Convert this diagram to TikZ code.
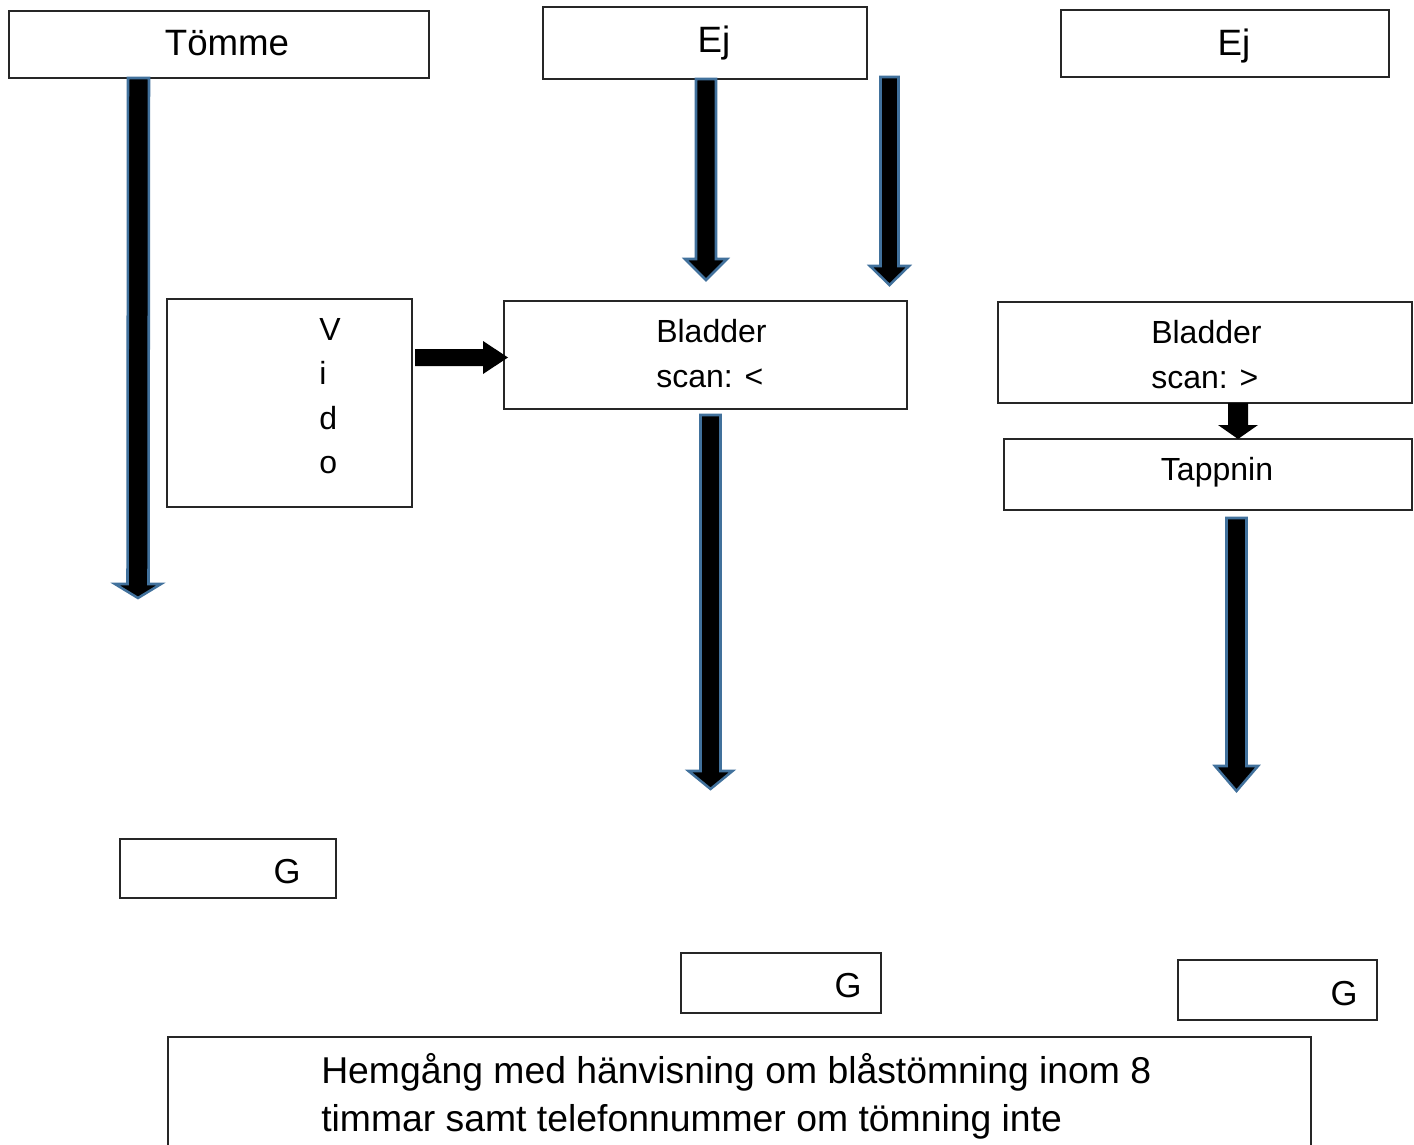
\documentclass[tikz,border=0pt]{standalone}
\usepackage{fontspec}
\setmainfont{Liberation Sans}
\usetikzlibrary{calc}
\definecolor{arrowblue}{RGB}{65,113,156}
\newcommand{\pxu}{0.75pt}
% block arrow pointing down: #2 top coord, #3 tip coord, #4 half shaft, #5 half head, #6 head length
\newcommand{\blkdown}[6][]{%
  \draw[#1] ($(#2)+(-#4,0)$) -- ($(#3)+(-#4,-#6)$) -- ($(#3)+(-#5,-#6)$) -- (#3)
    -- ($(#3)+(#5,-#6)$) -- ($(#3)+(#4,-#6)$) -- ($(#2)+(#4,0)$) -- cycle;}
\begin{document}
\begin{tikzpicture}[x=0.75pt,y=-0.75pt,
  box/.style={draw=black!85,line width=1.6pt,inner sep=0pt,outer sep=0pt},
  big/.style={font=\fontsize{27.5pt}{36pt}\selectfont,inner sep=0pt,anchor=base},
  bottomtext/.style={font=\fontsize{28pt}{36pt}\selectfont,inner sep=0pt,anchor=base west},
  small/.style={font=\fontsize{24pt}{33pt}\selectfont,inner sep=0pt,anchor=base},
  gfont/.style={font=\fontsize{26pt}{33pt}\selectfont,inner sep=0pt,anchor=base},
  blockarrow/.style={fill=black,draw=arrowblue,line width=1.9pt,line join=miter},
  smallarrow/.style={fill=black,draw=none}]
\useasboundingbox (0,0) rectangle (1414,1145);
\clip (0,0) rectangle (1414,1145);
\fill[white] (0,0) rectangle (1414,1145);

% boxes
\node[box,minimum width=420*\pxu,minimum height=67*\pxu] (tomme) at (219,44.5) {};
\node[big] (tommeT) at (227,56) {Tömme};
\node[box,minimum width=324*\pxu,minimum height=72*\pxu] (ej1) at (705,43) {};
\node[big] (ej1T) at (714,53) {Ej};
\node[box,minimum width=328*\pxu,minimum height=67*\pxu] (ej2) at (1225,43.5) {};
\node[big] (ej2T) at (1234,56) {Ej};

\node[box,minimum width=245*\pxu,minimum height=208*\pxu] (vido) at (289.5,403) {};
\node[small,anchor=base west] (v1) at (319,340) {V};
\node[small,anchor=base west] (v2) at (319,384) {i};
\node[small,anchor=base west] (v3) at (319,429) {d};
\node[small,anchor=base west] (v4) at (319,473) {o};

\node[box,minimum width=403*\pxu,minimum height=108*\pxu] (bl1) at (705.5,355) {};
\node[small,anchor=base west] (bl1a) at (656,342) {Bladder};
\node[small,anchor=base west] (bl1b) at (656,387) {scan: <};
\node[box,minimum width=414*\pxu,minimum height=101*\pxu] (bl2) at (1205,352.5) {};
\node[small,anchor=base west] (bl2a) at (1151,343) {Bladder};
\node[small,anchor=base west] (bl2b) at (1151,388) {scan: >};

\node[box,minimum width=408*\pxu,minimum height=71*\pxu] (tapp) at (1208,474.5) {};
\node[small] (tappT) at (1217,480) {Tappnin};

\node[box,minimum width=216*\pxu,minimum height=59*\pxu] (g1) at (228,868.5) {};
\node[gfont] (g1T) at (287,883) {G};
\node[box,minimum width=200*\pxu,minimum height=60*\pxu] (g2) at (781,983) {};
\node[gfont] (g2T) at (848,997) {G};
\node[box,minimum width=199*\pxu,minimum height=60*\pxu] (g3) at (1277.5,990) {};
\node[gfont] (g3T) at (1344,1005) {G};

\draw[box] (168,1180) -- (168,1037) -- (1311,1037) -- (1311,1180);
\node[bottomtext] (h1) at (321,1083) {Hemgång med hänvisning om blåstömning inom 8};
\node[bottomtext] (h2) at (321,1131) {timmar samt telefonnummer om tömning inte};

% block arrows
\coordinate (a1s) at (138.5,0 |- tomme.south);
\coordinate (a1e) at (138,598);
\blkdown[blockarrow]{a1s}{a1e}{10.5}{23}{14}

\coordinate (a2s) at (706,0 |- ej1.south);
\coordinate (a2e) at (706,280);
\blkdown[blockarrow]{a2s}{a2e}{10}{21}{21}

\coordinate (a3s) at (889.5,77);
\coordinate (a3e) at (889.5,285);
\blkdown[blockarrow]{a3s}{a3e}{9}{19.5}{19}

\coordinate (a4s) at (710.5,415);
\coordinate (a4e) at (710.5,789);
\blkdown[blockarrow]{a4s}{a4e}{10}{22}{18}

\coordinate (a5s) at (1236.5,518);
\coordinate (a5e) at (1236.5,791);
\blkdown[blockarrow]{a5s}{a5e}{10}{21.5}{25}

% small arrows
\coordinate (a7s) at (1238,0 |- bl2.south);
\coordinate (a7e) at (1238,0 |- tapp.north);
\blkdown[smallarrow]{a7s}{a7e}{10}{20}{14}

\coordinate (a6s) at (415,357.5);
\coordinate (a6e) at (508,357.5);
\fill (a6s) ++(0,-8.5) -- ($(a6e)+(-25,-8.5)$) -- ($(a6e)+(-25,-16.5)$) -- (a6e)
  -- ($(a6e)+(-25,16.5)$) -- ($(a6e)+(-25,8.5)$) -- ($(a6s)+(0,8.5)$) -- cycle;
\end{tikzpicture}
\end{document}
